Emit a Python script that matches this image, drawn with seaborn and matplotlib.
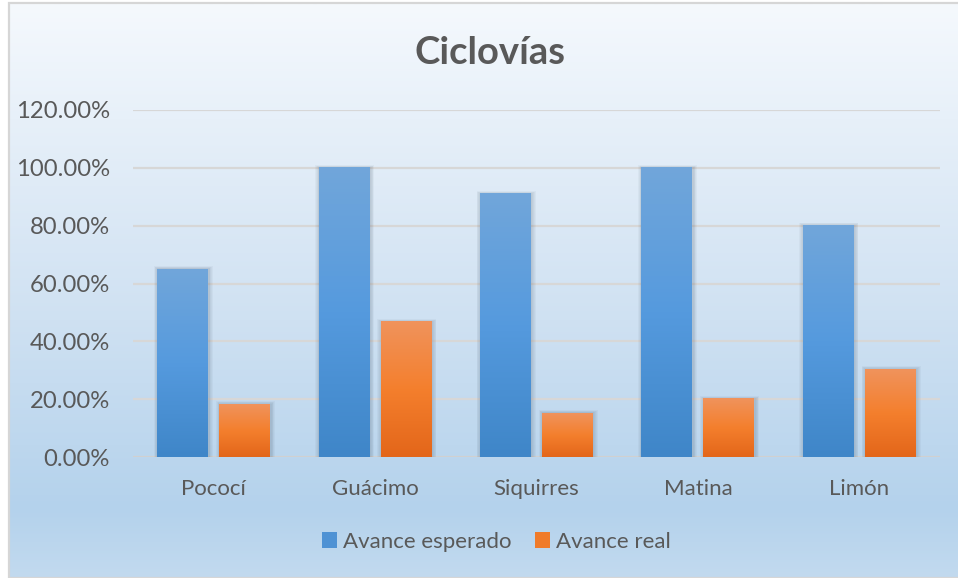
import numpy as np
import pandas as pd
import matplotlib
matplotlib.use("Agg")
import matplotlib.pyplot as plt
from matplotlib.colors import LinearSegmentedColormap
from matplotlib.patches import Patch, Rectangle
from matplotlib.ticker import FuncFormatter
import seaborn as sns

# Data
cantones = ["Pococí", "Guácimo", "Siquirres", "Matina", "Limón"]
avance_esperado = [0.65, 1.00, 0.91, 1.00, 0.80]
avance_real = [0.183, 0.467, 0.152, 0.201, 0.304]
series = ["Avance esperado", "Avance real"]
titulo = "Ciclovías"

df = pd.DataFrame({
    "Cantón": cantones * 2,
    "Avance": avance_esperado + avance_real,
    "Serie": [series[0]] * len(cantones) + [series[1]] * len(cantones),
})

sns.set_theme(style="white")
plt.rcParams["font.family"] = ["Lato", "DejaVu Sans"]

W, H = 958, 578
fig = plt.figure(figsize=(W / 100, H / 100), dpi=100, facecolor="white")

# Chart area background: vertical gradient inside a thin frame
x0, ytop = 10 / W, 4 / H
bg = fig.add_axes([x0, 0, 1 - x0, 1 - ytop], zorder=0)
bg_cmap = LinearSegmentedColormap.from_list(
    "bg", [(0.0, "#f5f9fd"), (0.2, "#e7f0f9"), (0.55, "#cfe1f2"),
           (0.88, "#b4d2ec"), (1.0, "#c2daef")])
grad = np.linspace(0, 1, 256).reshape(-1, 1)
bg.imshow(grad, cmap=bg_cmap, aspect="auto", extent=[0, 1, 0, 1], origin="upper")
bg.set_xlim(0, 1)
bg.set_ylim(0, 1)
bg.axis("off")
fig.add_artist(Rectangle((x0 - 1 / W, 0), 1.0, 1 - ytop + 1 / H,
                         transform=fig.transFigure, fill=False,
                         edgecolor="#d6d6d6", linewidth=1.6, zorder=1))

ax = fig.add_axes([133 / W, 1 - 457 / H, (940 - 133) / W, (457 - 110) / H], zorder=2)
ax.patch.set_alpha(0)

sns.barplot(data=df, x="Cantón", y="Avance", hue="Serie", hue_order=series,
            order=cantones, palette=["#5b9bd5", "#ed7d31"], width=0.77, gap=0.18,
            errorbar=None, legend=False, ax=ax, zorder=3)

ax.set_ylim(0, 1.2)
ax.set_xlim(-0.5, len(cantones) - 0.5)
ax.set_yticks(np.arange(0, 1.21, 0.2))
ax.yaxis.set_major_formatter(FuncFormatter(lambda v, _: f"{v * 100:.2f}%"))
ax.grid(axis="y", color="#d7d7d7", linewidth=1.6, zorder=0)
ax.set_axisbelow(True)
for s in ax.spines.values():
    s.set_visible(False)
ax.axhline(0, color="#d0d0d0", linewidth=2.2, zorder=2)
ax.set_xlabel("")
ax.set_ylabel("")
ax.tick_params(axis="y", length=0, pad=16.5, labelsize=17.2, labelcolor="#595959")
ax.tick_params(axis="x", length=0, pad=16, labelsize=16, labelcolor="#595959")

# Gradient fills for the bars, with a soft shadow
blue_cmap = LinearSegmentedColormap.from_list("b", ["#3f86c8", "#559ade", "#71a6da"])
orange_cmap = LinearSegmentedColormap.from_list("o", ["#e3661a", "#f47f2d", "#f0935c"])
n = len(cantones)
for i, p in enumerate(ax.patches[:2 * n]):
    cmap = blue_cmap if i < n else orange_cmap
    x, w, h = p.get_x(), p.get_width(), p.get_height()
    for k in range(1, 6):
        dx = k * 0.005
        dy = k * 0.004
        ax.add_patch(Rectangle((x - dx + 0.004, 0), w + 2 * dx, h + dy * 0.5,
                               facecolor="#3a4a5a", alpha=0.045, edgecolor="none", zorder=2.5))
    ax.imshow(np.linspace(0, 1, 128).reshape(-1, 1), cmap=cmap, origin="lower",
              aspect="auto", extent=[x, x + w, 0, h], zorder=3.5)
    p.set_facecolor("none")
    p.set_edgecolor("none")
ax.set_ylim(0, 1.2)
ax.set_xlim(-0.5, len(cantones) - 0.5)

fig.text(490 / W, 1 - 53 / H, titulo, ha="center", va="center",
         fontsize=27.5, fontweight="bold", color="#595959")

handles = [Patch(facecolor="#4f92d4", edgecolor="none", label=series[0]),
           Patch(facecolor="#f07b2a", edgecolor="none", label=series[1])]
fig.legend(handles=handles, loc="center", bbox_to_anchor=(496 / W, 1 - 542 / H),
           ncol=2, frameon=False, fontsize=16, labelcolor="#595959",
           handlelength=0.7, handleheight=0.7, handletextpad=0.25, columnspacing=1.05)

fig.savefig("out.png", dpi=100, facecolor="white")
